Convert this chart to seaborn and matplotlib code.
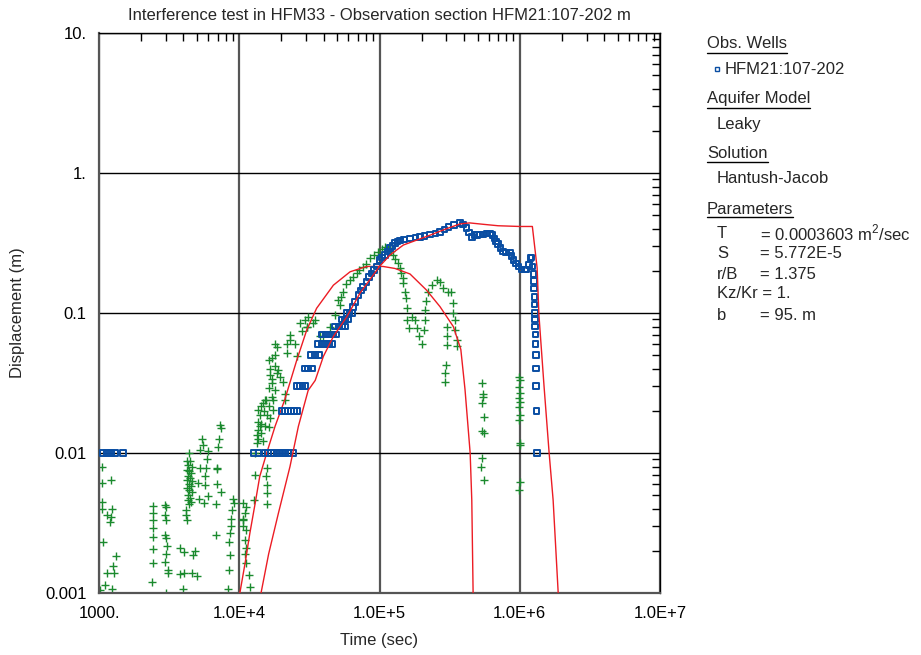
import matplotlib
matplotlib.use("Agg")
import matplotlib.pyplot as plt
from matplotlib.lines import Line2D
from matplotlib.ticker import LogLocator, NullFormatter
import pandas as pd
import seaborn as sns

# observation well HFM21:107-202 (time in sec, displacement in m)
obs_time = [1070, 1140, 1220, 1300, 1480,
            12600, 13700, 15300, 16000, 16800, 17600, 18500, 19400, 20400, 21400, 22400, 24300,
            20100, 21100, 22200, 23400, 24500, 25700,
            25700, 27000, 28300, 29400,
            29400, 31000, 33000,
            32600, 34700, 37000,
            36200, 38500, 41000, 43500, 46100,
            38800, 41500, 44000, 46900, 49500,
            48300, 51500, 54500, 57000,
            53500, 56500, 60000,
            58500, 61000, 63500,
            65000, 67000, 70600, 73500, 76400, 81000, 84500, 88000, 91500, 95600,
            100000, 104000, 109000, 114000, 119000, 124000, 129000, 134000, 140000, 150000,
            165000, 180000, 194000, 210000, 230000, 250000, 270000, 290000, 310000, 340000,
            376000, 395000, 418000, 435000, 455000, 475000, 496000, 520000, 551000, 580000,
            612000, 640000, 663000, 680000, 700000, 730000, 760000, 800000, 850000, 875000,
            900000, 940000, 980000, 1030000, 1090000, 1120000, 1160000, 1190000, 1210000, 1230000,
            1250000, 1260000, 1265000, 1270000, 1275000, 1280000, 1285000, 1290000, 1293000, 1296000,
            1300000, 1305000, 1310000, 1315000, 1325000]
obs_disp = [0.01, 0.01, 0.01, 0.01, 0.01,
            0.01, 0.01, 0.01, 0.01, 0.01, 0.01, 0.01, 0.01, 0.01, 0.01, 0.01, 0.01,
            0.02, 0.02, 0.02, 0.02, 0.02, 0.02,
            0.03, 0.03, 0.03, 0.03,
            0.04, 0.04, 0.04,
            0.05, 0.05, 0.05,
            0.06, 0.06, 0.06, 0.06, 0.06,
            0.07, 0.07, 0.07, 0.07, 0.07,
            0.08, 0.08, 0.08, 0.08,
            0.09, 0.09, 0.09,
            0.1, 0.1, 0.1,
            0.11, 0.12, 0.135, 0.145, 0.153, 0.167, 0.18, 0.192, 0.203, 0.215,
            0.24, 0.25, 0.26, 0.275, 0.29, 0.30, 0.316, 0.325, 0.33, 0.335,
            0.34, 0.345, 0.35, 0.355, 0.365, 0.37, 0.38, 0.395, 0.41, 0.425,
            0.44, 0.43, 0.405, 0.375, 0.35, 0.36, 0.36, 0.365, 0.365, 0.37,
            0.37, 0.36, 0.34, 0.325, 0.31, 0.29, 0.275, 0.27, 0.27, 0.255,
            0.24, 0.225, 0.215, 0.205, 0.205, 0.205, 0.22, 0.247, 0.25, 0.215,
            0.19, 0.17, 0.15, 0.13, 0.115, 0.1, 0.09, 0.08, 0.07, 0.06,
            0.05, 0.04, 0.03, 0.02, 0.01]

# second data set (green crosses)
grn_time = [1045, 1045, 1045, 1045, 1220, 1230, 1135, 1220, 1200, 1073, 1322, 1265, 1135, 1285, 1100, 1230, 1020,
            2440, 2440, 2440, 2440, 2440, 2440, 2440, 2400,
            2960, 3000, 2960, 2980, 2960, 3020, 3050, 3020, 2940, 3080, 3080, 3020,
            3790, 4060, 4840, 4690, 3790, 4060, 4580, 4980, 3990,
            4400, 4250, 4450, 4300, 4600, 4250, 4400, 4550, 4300, 4450, 4250, 4600, 4350,
            4500, 4250, 4400, 4600, 4300, 4450, 4300, 4500, 4350, 4200, 4150, 4250,
            5390, 5540, 5250, 5950, 5850, 5250, 5770, 5110, 5700, 5700, 5170, 5630, 6030,
            7290, 7410, 7170, 7090, 6980, 6980, 6910, 7410, 6800, 6800,
            9000, 9100, 8830, 8740, 8740, 8600, 8500, 8600, 8450, 8360,
            10700, 10700, 10700, 11200, 11000, 10700, 11200, 11000, 11200, 11000, 11100, 11700, 11900,
            13000, 12800, 15700, 15500, 15700, 15700, 15700,
            13000, 13300, 13300, 13700, 13700, 14000, 13700, 14400, 14800, 16600, 16200, 17500,
            17100, 16200, 17100, 16600, 16600, 18000, 19000, 19500, 20600, 21100, 21100, 18000,
            18500, 18000, 21800, 21800, 23000, 23000, 24900, 25700, 27800, 30300, 29400, 31000,
            34600, 33600, 16200, 17000, 13500, 14200, 15000, 15500,
            14400, 14800, 15300, 14000, 15700, 16200, 15300, 17500, 18000, 17100, 18500,
            27000, 30300, 37600, 39800, 44200, 48300, 51000,
            52400, 53500, 54800, 58000, 61700, 65000, 68700, 72000, 76400, 80000, 85000, 91000,
            97900, 104000, 109000, 115000, 120000, 125000, 130000, 136000, 140000, 143000, 146000,
            148000, 152000, 155000, 157000, 157000, 170000, 180000, 184000, 161000, 190000, 200000,
            207000, 210000, 210000, 213000, 223000, 235000, 256000, 270000, 285000, 309000, 326000,
            336000, 336000, 347000, 347000, 357000, 357000, 302000, 302000, 302000, 298000, 295000, 293000,
            537000, 548000, 548000, 537000, 553000, 537000, 553000, 537000, 527000, 553000,
            990000, 1000000, 990000, 1010000, 990000, 1000000, 990000, 1000000, 990000, 1000000,
            1010000, 1010000, 990000]
grn_disp = [0.0079, 0.0061, 0.0045, 0.0040, 0.0064, 0.0040, 0.0036, 0.0035, 0.0032, 0.0023, 0.00185, 0.00156,
            0.00138, 0.00138, 0.00114, 0.00106, 0.00105,
            0.00418, 0.0037, 0.0033, 0.0029, 0.00252, 0.00205, 0.00163, 0.00119,
            0.00425, 0.0041, 0.0036, 0.0033, 0.0026, 0.00246, 0.00217, 0.00189, 0.00167, 0.00146, 0.0014, 0.001,
            0.00209, 0.00197, 0.002, 0.00187, 0.00137, 0.00138, 0.00138, 0.00132, 0.00106,
            0.0100, 0.0088, 0.0088, 0.0082, 0.0080, 0.0076, 0.0074, 0.0072, 0.0068, 0.0066, 0.0064, 0.0063, 0.0060,
            0.0058, 0.0056, 0.0054, 0.0053, 0.0050, 0.0048, 0.0046, 0.0045, 0.0043, 0.0039, 0.0036, 0.0033,
            0.0125, 0.0114, 0.0105, 0.0104, 0.0090, 0.0078, 0.0078, 0.0061, 0.0068, 0.0059, 0.0047, 0.0044, 0.0049,
            0.0158, 0.0150, 0.0125, 0.0110, 0.0078, 0.0077, 0.0060, 0.0053, 0.0043, 0.0026,
            0.0047, 0.0044, 0.0039, 0.0034, 0.0030, 0.0027, 0.0023, 0.00187, 0.00145, 0.00106,
            0.0034, 0.0030, 0.0044, 0.0041, 0.0037, 0.0033, 0.0028, 0.0024, 0.0021, 0.0019, 0.00163, 0.00135, 0.0011,
            0.0070, 0.0046, 0.0078, 0.0068, 0.0059, 0.0052, 0.0043,
            0.0100, 0.0117, 0.0134, 0.0146, 0.0167, 0.0187, 0.0203, 0.0217, 0.0226, 0.0177, 0.0154, 0.0203,
            0.0252, 0.029, 0.0316, 0.036, 0.040, 0.042, 0.039, 0.035, 0.032, 0.0266, 0.024, 0.050,
            0.057, 0.060, 0.052, 0.060, 0.070, 0.064, 0.060, 0.0495, 0.074, 0.080, 0.089, 0.094,
            0.089, 0.085, 0.046, 0.048, 0.0125, 0.0160, 0.0200, 0.0240,
            0.0138, 0.0121, 0.0155, 0.0155, 0.0187, 0.0215, 0.024, 0.024, 0.0282, 0.034, 0.0372,
            0.085, 0.080, 0.068, 0.068, 0.080, 0.097, 0.124,
            0.114, 0.131, 0.142, 0.160, 0.172, 0.182, 0.192, 0.203, 0.214, 0.225, 0.246, 0.26,
            0.274, 0.285, 0.298, 0.29, 0.275, 0.26, 0.245, 0.226, 0.21, 0.192, 0.178,
            0.163, 0.142, 0.127, 0.108, 0.089, 0.094, 0.089, 0.078, 0.078, 0.068, 0.060,
            0.075, 0.089, 0.105, 0.121, 0.142, 0.158, 0.172, 0.166, 0.150, 0.142, 0.142,
            0.117, 0.1, 0.089, 0.075, 0.064, 0.058, 0.08, 0.068, 0.059, 0.0425, 0.0375, 0.032,
            0.0315, 0.0266, 0.025, 0.0226, 0.018, 0.0144, 0.0139, 0.0092, 0.0079, 0.0064,
            0.035, 0.033, 0.0298, 0.0267, 0.0246, 0.0232, 0.0214, 0.0187, 0.0172, 0.0117,
            0.0114, 0.0062, 0.0054]

# Hantush-Jacob curves
fit_time = [14300, 16200, 19000, 23000, 26400, 31000, 34800, 39800, 46900, 58500, 72700, 85000, 100000,
            119000, 148000, 230000, 300000, 376000, 440000, 550000, 700000, 1000000, 1230000,
            1330000, 1370000, 1490000, 1620000, 1730000, 1880000]
fit_disp = [0.001, 0.0019, 0.0037, 0.0080, 0.0155, 0.028, 0.033, 0.049, 0.068, 0.094, 0.139, 0.172, 0.215,
            0.26, 0.306, 0.36, 0.40, 0.433, 0.44, 0.43, 0.42, 0.415, 0.415,
            0.21, 0.097, 0.03, 0.01, 0.0046, 0.001]
lk_time = [10100, 11000, 11900, 13000, 14000, 15700, 18000, 21100, 25700, 30300, 35600, 46900, 61700,
           81000, 106000, 129000, 165000, 216000, 270000, 336000, 380000, 407000, 443000, 455000, 465000]
lk_disp = [0.001, 0.00163, 0.00267, 0.0044, 0.0068, 0.01, 0.0155, 0.024, 0.046, 0.0757, 0.108, 0.158, 0.197,
           0.215, 0.215, 0.208, 0.19, 0.146, 0.111, 0.08, 0.055, 0.0285, 0.01, 0.0046, 0.001]

xtick_vals = [1e3, 1e4, 1e5, 1e6, 1e7]
xtick_labels = ["1000.", "1.0E+4", "1.0E+5", "1.0E+6", "1.0E+7"]
ytick_vals = [1e-3, 1e-2, 1e-1, 1, 10]
ytick_labels = ["0.001", "0.01", "0.1", "1.", "10."]

BLUE = "#0a4ea3"
GREEN = "#1b8a2e"
RED = "#ec1c24"

sns.set_style("white")
plt.rcParams["font.family"] = ["Liberation Sans", "DejaVu Sans"]
plt.rcParams["mathtext.fontset"] = "custom"
plt.rcParams["mathtext.rm"] = "Liberation Sans"
FS = 12

W, H = 921, 655
fig = plt.figure(figsize=(W / 100, H / 100), dpi=100)
ax = fig.add_axes([99 / W, 1 - 593 / H, 561 / W, 560 / H])
ax.set(xscale="log", yscale="log")

obs = pd.DataFrame({"t": obs_time, "s": obs_disp})
grn = pd.DataFrame({"t": grn_time, "s": grn_disp})

sns.lineplot(x=lk_time, y=lk_disp, ax=ax, sort=False, estimator=None, color=RED, lw=1, zorder=3)
sns.lineplot(x=fit_time, y=fit_disp, ax=ax, sort=False, estimator=None, color=RED, lw=1, zorder=5)
sns.scatterplot(data=grn, x="t", y="s", ax=ax, marker="+", s=28, color=GREEN, linewidth=1, zorder=2)
sns.scatterplot(data=obs, x="t", y="s", ax=ax, marker="s", s=16, color=BLUE, facecolor="none",
                edgecolor=BLUE, linewidth=1.4, zorder=4)

ax.set_xlim(1e3, 1e7)
ax.set_ylim(1e-3, 10)
ax.set_xticks(xtick_vals)
ax.set_xticklabels(xtick_labels)
ax.set_yticks(ytick_vals)
ax.set_yticklabels(ytick_labels)
ax.xaxis.set_minor_locator(LogLocator(base=10, subs=range(2, 10), numticks=20))
ax.yaxis.set_minor_locator(LogLocator(base=10, subs=range(2, 10), numticks=20))
ax.xaxis.set_minor_formatter(NullFormatter())
ax.yaxis.set_minor_formatter(NullFormatter())
ax.tick_params(which="both", direction="in", top=True, right=True, colors="black")
ax.tick_params(which="major", length=0, pad=9, labelsize=FS)
ax.tick_params(which="minor", length=6, width=1)

ax.xaxis.grid(True, which="major", color="#555555", lw=1.6)
ax.yaxis.grid(True, which="major", color="black", lw=1)
for side in ["left", "bottom"]:
    ax.spines[side].set_color("#555555")
    ax.spines[side].set_linewidth(1.6)
for side in ["top", "right"]:
    ax.spines[side].set_color("black")
    ax.spines[side].set_linewidth(1)

ax.set_title("Interference test in HFM33 - Observation section HFM21:107-202 m", fontsize=FS, pad=9)
ax.set_xlabel("Time (sec)", fontsize=FS, va="center")
ax.xaxis.set_label_coords(0.5, (593 - 641) / 560)
ax.set_ylabel("Displacement (m)", fontsize=FS, va="center")
ax.yaxis.set_label_coords((18 - 99) / 561, 0.5)

# side panel
def fx(px):
    return px / W

def fy(py):
    return 1 - py / H

headings = [(44, "Obs. Wells"), (99, "Aquifer Model"), (154, "Solution"), (209, "Parameters")]
head_texts = [fig.text(fx(707), fy(y), s, fontsize=FS, va="center") for y, s in headings]

fig.add_artist(Line2D([fx(717)], [fy(69)], marker="s", ms=3.5, mfc="none", mec=BLUE, mew=1,
                      transform=fig.transFigure))
fig.text(fx(725), fy(69), "HFM21:107-202", fontsize=FS, va="center")
fig.text(fx(717), fy(124), "Leaky", fontsize=FS, va="center")
fig.text(fx(717), fy(179), "Hantush-Jacob", fontsize=FS, va="center")

params = [(233, "T", r"= 0.0003603 m$^\mathregular{2}$/sec"), (254, "S", "= 5.772E-5"),
          (274, "r/B", "= 1.375"), (315, "b", "= 95. m")]
for y, name, val in params:
    fig.text(fx(717), fy(y), name, fontsize=FS, va="center")
    fig.text(fx(760), fy(y), val, fontsize=FS, va="center")
fig.text(fx(717), fy(294), "Kz/Kr = 1.", fontsize=FS, va="center")

fig.canvas.draw()
for t in head_texts:
    bb = t.get_window_extent().transformed(fig.transFigure.inverted())
    fig.add_artist(Line2D([bb.x0, bb.x1], [bb.y0 - 1 / H, bb.y0 - 1 / H], color="black", lw=1,
                          transform=fig.transFigure))

fig.savefig("out.png", dpi=100)
